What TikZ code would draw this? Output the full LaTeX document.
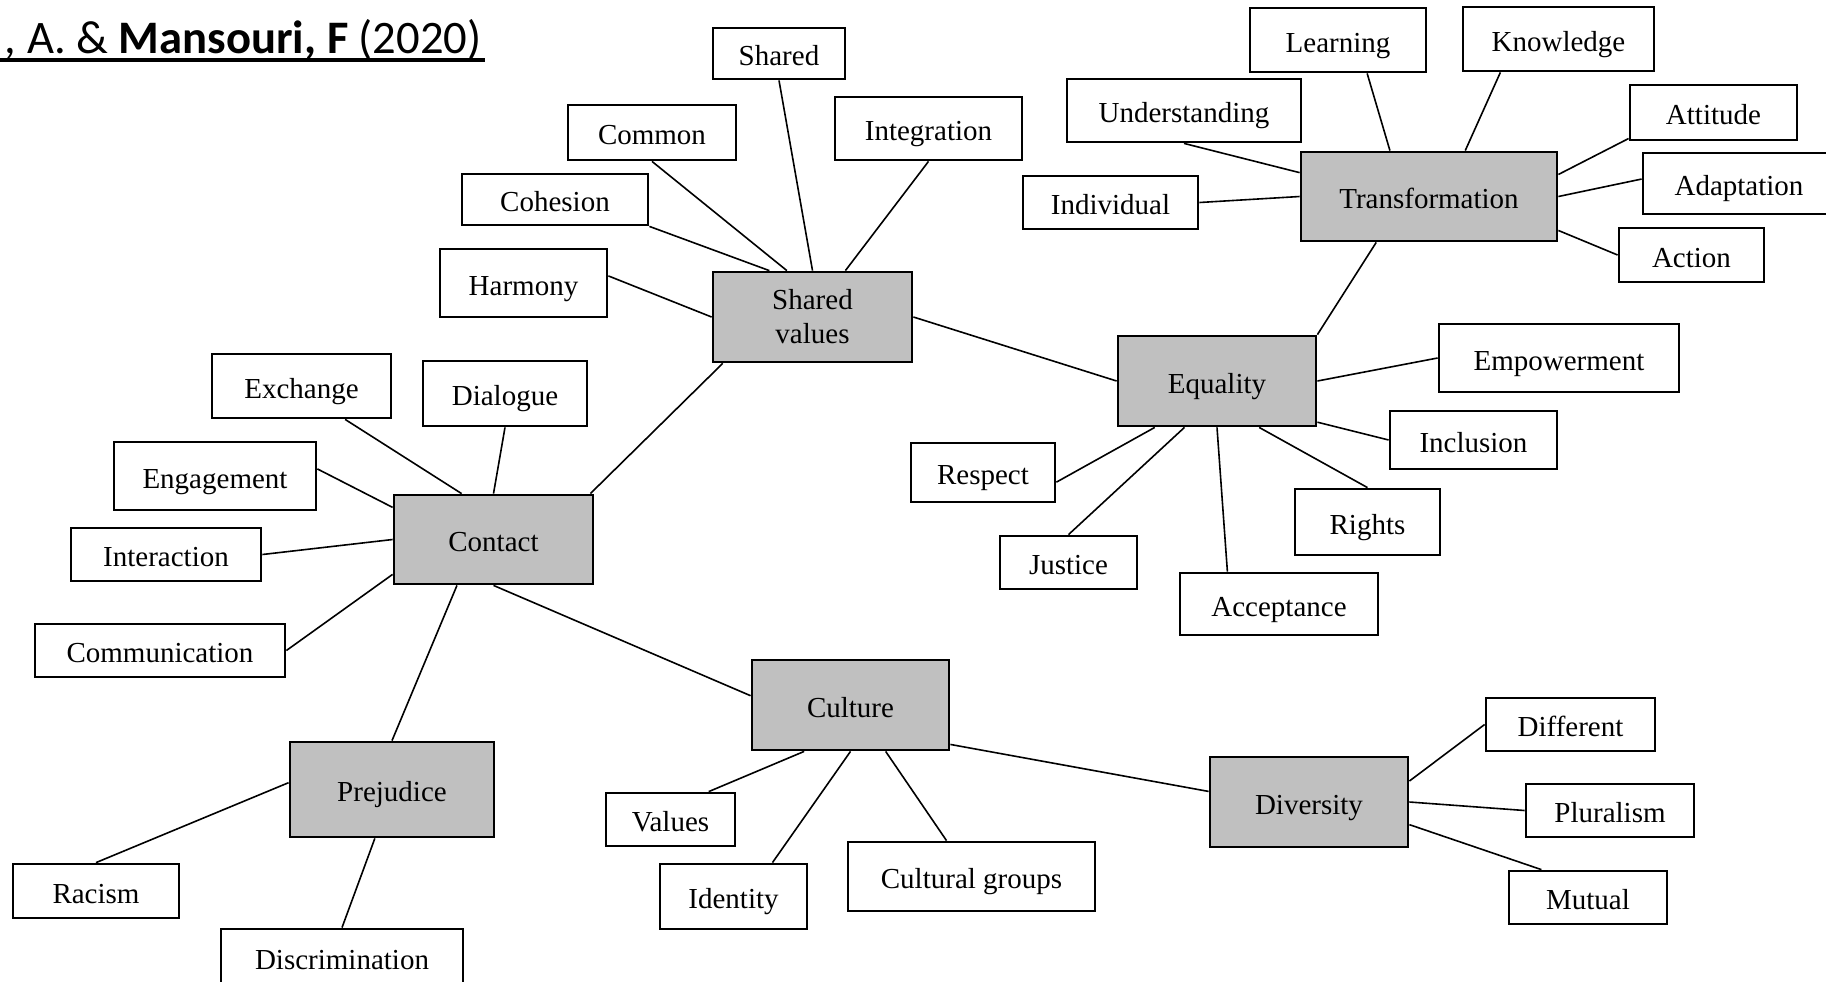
\documentclass[tikz,border=0pt]{standalone}
\usepackage{fontspec}
\setmainfont{Liberation Serif}
\newfontfamily\titlefont{Carlito}
\usetikzlibrary{calc}
\definecolor{boxgray}{HTML}{C0C0C0}
\tikzset{
  wbox/.style 2 args={draw, line width=1.4pt, minimum width=#1*0.5pt, minimum height=#2*0.5pt,
    inner sep=0pt, font=\fontsize{14.5pt}{17pt}\selectfont, align=center,
    text height=13.5pt, text depth=1.5pt},
  gbox/.style 2 args={wbox={#1}{#2}, fill=boxgray},
  conn/.style={line width=0.8pt}
}
\begin{document}
\begin{tikzpicture}[x=0.5pt,y=-0.5pt]
\useasboundingbox (0,0) rectangle (1826,981);
% title
\node[anchor=base east, inner sep=0pt, font=\titlefont\fontsize{23.3pt}{28pt}\selectfont] (title) at (482,53) {, A. \& \textbf{Mansouri, F} (2020)};
\coordinate (ulA) at (0,60);
\coordinate (ulB) at (485,60);
\draw[line width=1.8pt] (ulA) -- (ulB);
% shared values cluster
\node[wbox={132}{51}] (shared) at (779,53.5) {Shared};
\node[wbox={168}{55}] (common) at (652,132.5) {Common};
\node[wbox={187}{63}] (integ) at (928.5,128.5) {Integration};
\node[wbox={186}{51}] (cohesion) at (555,199.5) {Cohesion};
\node[wbox={167}{68}] (harmony) at (523.5,283) {Harmony};
\node[gbox={199}{90}, text height={}, text depth={}] (sv) at (812.5,317) {Shared\\values};
% transformation cluster
\node[wbox={176}{64}] (learning) at (1338,40) {Learning};
\node[wbox={191}{64}] (knowledge) at (1558.5,39) {Knowledge};
\node[wbox={234}{63}] (underst) at (1184,110.5) {Understanding};
\node[wbox={167}{55}] (attitude) at (1713.5,112.5) {Attitude};
\node[wbox={192}{61}] (adapt) at (1739,183.5) {Adaptation};
\node[gbox={256}{89}] (transf) at (1429,196.5) {Transformation};
\node[wbox={175}{53}] (individual) at (1110.5,202.5) {Individual};
\node[wbox={145}{54}] (action) at (1691.5,255) {Action};
% equality cluster
\node[gbox={198}{90}] (equality) at (1217,381) {Equality};
\node[wbox={240}{68}] (empower) at (1559,358) {Empowerment};
\node[wbox={167}{58}] (inclusion) at (1473.5,440) {Inclusion};
\node[wbox={144}{59}] (respect) at (983,472.5) {Respect};
\node[wbox={145}{66}] (rights) at (1367.5,522) {Rights};
\node[wbox={137}{53}] (justice) at (1068.5,562.5) {Justice};
\node[wbox={198}{62}] (accept) at (1279,604) {Acceptance};
% contact cluster
\node[wbox={179}{64}] (exchange) at (301.5,386) {Exchange};
\node[wbox={164}{65}] (dialogue) at (505,393.5) {Dialogue};
\node[wbox={202}{68}] (engage) at (215,476) {Engagement};
\node[gbox={199}{89}] (contact) at (493.5,539.5) {Contact};
\node[wbox={190}{53}] (interact) at (166,554.5) {Interaction};
\node[wbox={250}{53}] (commun) at (160,650.5) {Communication};
% culture cluster
\node[gbox={197}{90}] (culture) at (850.5,705) {Culture};
\node[gbox={204}{95}] (prejudice) at (392,789.5) {Prejudice};
\node[wbox={129}{53}] (values) at (670.5,819.5) {Values};
\node[wbox={147}{65}] (identity) at (733.5,896.5) {Identity};
\node[wbox={247}{69}] (cultgroups) at (971.5,876.5) {Cultural groups};
\node[wbox={166}{54}] (racism) at (96,891) {Racism};
\node[wbox={242}{56}] (discrim) at (342,957) {Discrimination};
% diversity cluster
\node[gbox={198}{90}] (diversity) at (1309,802) {Diversity};
\node[wbox={169}{53}] (different) at (1570.5,724.5) {Different};
\node[wbox={168}{53}] (pluralism) at (1610,810.5) {Pluralism};
\node[wbox={158}{53}] (mutual) at (1588,897.5) {Mutual};

% connectors: shared values
\draw[conn] (shared.south) -- (sv.north);
\draw[conn] (common.south) -- ($(sv.north west)!0.373!(sv.north east)$);
\draw[conn] (cohesion.south east) -- ($(sv.north west)!0.286!(sv.north east)$);
\draw[conn] (integ.south) -- ($(sv.north west)!0.663!(sv.north east)$);
\draw[conn] ($(harmony.north east)!0.4!(harmony.south east)$) -- (sv.west);
\draw[conn] (sv.east) -- (equality.west);
\draw[conn] ($(sv.south west)!0.055!(sv.south east)$) -- ($(contact.north west)!0.98!(contact.north east)$);
% transformation
\draw[conn] ($(learning.south west)!0.663!(learning.south east)$) -- ($(transf.north west)!0.349!(transf.north east)$);
\draw[conn] ($(knowledge.south west)!0.2!(knowledge.south east)$) -- ($(transf.north west)!0.64!(transf.north east)$);
\draw[conn] (underst.south) -- ($(transf.north west)!0.24!(transf.south west)$);
\draw[conn] (individual.east) -- (transf.west);
\draw[conn] ($(transf.north east)!0.26!(transf.south east)$) -- ($(attitude.north west)!0.95!(attitude.south west)$);
\draw[conn] (transf.east) -- ($(adapt.north west)!0.43!(adapt.south west)$);
\draw[conn] ($(transf.north east)!0.87!(transf.south east)$) -- (action.west);
\draw[conn] ($(transf.south west)!0.296!(transf.south east)$) -- (equality.north east);
% equality
\draw[conn] (equality.east) -- (empower.west);
\draw[conn] ($(equality.north east)!0.944!(equality.south east)$) -- (inclusion.west);
\draw[conn] ($(equality.south west)!0.19!(equality.south east)$) -- ($(respect.north east)!0.656!(respect.south east)$);
\draw[conn] ($(equality.south west)!0.338!(equality.south east)$) -- (justice.north);
\draw[conn] (equality.south) -- ($(accept.north west)!0.243!(accept.north east)$);
\draw[conn] ($(equality.south west)!0.71!(equality.south east)$) -- (rights.north);
% contact
\draw[conn] ($(exchange.south west)!0.74!(exchange.south east)$) -- ($(contact.north west)!0.342!(contact.north east)$);
\draw[conn] (dialogue.south) -- (contact.north);
\draw[conn] ($(engage.north east)!0.4!(engage.south east)$) -- ($(contact.north west)!0.15!(contact.south west)$);
\draw[conn] (interact.east) -- (contact.west);
\draw[conn] (commun.east) -- ($(contact.north west)!0.88!(contact.south west)$);
\draw[conn] ($(contact.south west)!0.319!(contact.south east)$) -- (prejudice.north);
\draw[conn] (contact.south) -- ($(culture.north west)!0.4!(culture.south west)$);
% prejudice
\draw[conn] ($(prejudice.north west)!0.43!(prejudice.south west)$) -- (racism.north);
\draw[conn] ($(prejudice.south west)!0.417!(prejudice.south east)$) -- (discrim.north);
% culture
\draw[conn] ($(culture.south west)!0.268!(culture.south east)$) -- ($(values.north west)!0.79!(values.north east)$);
\draw[conn] (culture.south) -- ($(identity.north west)!0.76!(identity.north east)$);
\draw[conn] ($(culture.south west)!0.676!(culture.south east)$) -- ($(cultgroups.north west)!0.4!(cultgroups.north east)$);
\draw[conn] ($(culture.north east)!0.925!(culture.south east)$) -- ($(diversity.north west)!0.386!(diversity.south west)$);
% diversity
\draw[conn] ($(diversity.north east)!0.274!(diversity.south east)$) -- (different.west);
\draw[conn] (diversity.east) -- (pluralism.west);
\draw[conn] ($(diversity.north east)!0.744!(diversity.south east)$) -- ($(mutual.north west)!0.21!(mutual.north east)$);
\end{tikzpicture}
\end{document}
